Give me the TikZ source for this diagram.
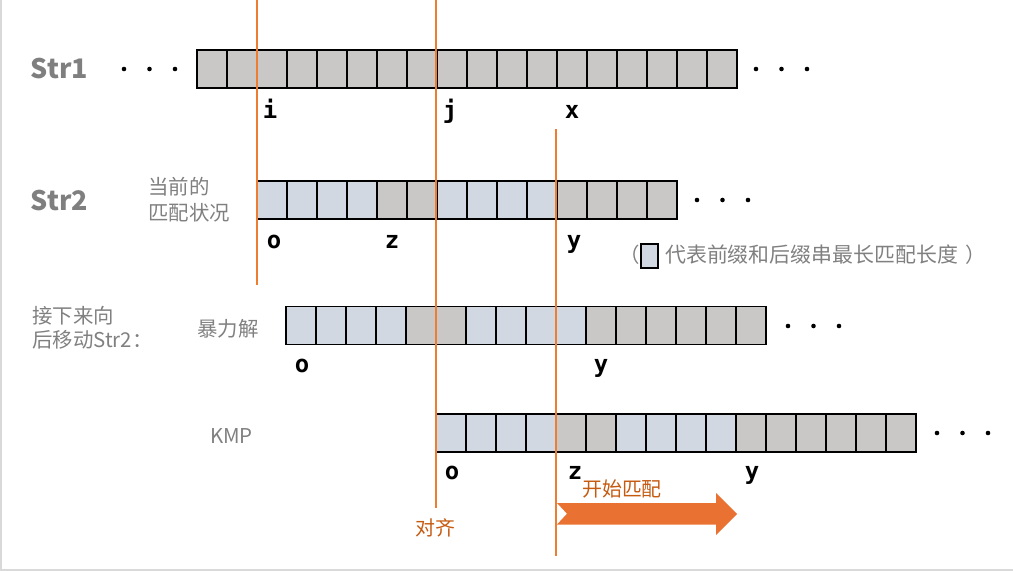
\documentclass[tikz,border=0pt]{standalone}
\usepackage{fontspec}
\newfontfamily\cjk{Noto Sans CJK SC}
\newfontfamily\mono{DejaVu Sans Mono}
\definecolor{cellG}{RGB}{201,200,198}
\definecolor{cellB}{RGB}{209,216,226}
\definecolor{lineor}{RGB}{237,125,49}
\definecolor{arrowor}{RGB}{233,113,50}
\definecolor{ortxt}{RGB}{197,90,17}
\definecolor{labgray}{RGB}{127,127,127}
\definecolor{notegray}{RGB}{128,128,128}
\definecolor{framegray}{RGB}{217,217,217}
\newcommand\cellrow[4]{% x0, y0, n-1, colours
  \foreach \c [count=\i from 0] in {#4} {\fill[fill=cell\c] ({#1+\i*30},#2) rectangle ++(30,38);}
  \foreach \k in {1,...,#3} {\draw[cellline] ({#1+\k*30},#2) -- ++(0,38);}
  \draw[cellline] (#1,#2) rectangle ++({(#3+1)*30},38);
}
\newcommand\threedots[3]{% x0, y, name
  \foreach \k in {0,1,2} {\fill ({#1+\k*25.5},#2) circle (2.3);}
}
\begin{document}
\begin{tikzpicture}[x=1bp,y=-1bp,
  cellline/.style={line width=1.7bp,draw=black},
  vline/.style={line width=1.7bp,draw=lineor},
  lbl/.style={font=\mono\bfseries\fontsize{24}{24}\selectfont,text=black,inner sep=0,anchor=base},
  strlbl/.style={font=\cjk\bfseries\fontsize{27}{27}\selectfont,text=labgray,inner sep=0},
  note/.style={font=\cjk\fontsize{20.5}{20.5}\selectfont,text=notegray,inner sep=0,anchor=base west},
  ortext/.style={font=\cjk\fontsize{20}{20}\selectfont,text=ortxt,inner sep=0,anchor=base west},
]
\useasboundingbox (0,0) rectangle (1013,571);
% frame
\draw[framegray,line width=1.2bp] (1,0) -- (1,570) -- (1013,570);

% rows of cells
\cellrow{196.7}{50}{17}{G,G,G,G,G,G,G,G,G,G,G,G,G,G,G,G,G,G}
\cellrow{257}{181}{13}{B,B,B,B,G,G,B,B,B,B,G,G,G,G}
\cellrow{286}{306.5}{15}{B,B,B,B,G,G,B,B,B,B,G,G,G,G,G,G}
\cellrow{436}{414}{15}{B,B,B,B,G,G,B,B,B,B,G,G,G,G,G,G}

% dots
\threedots{124}{69}{d1}
\threedots{756}{69}{d2}
\threedots{697}{200}{d3}
\threedots{788}{326}{d4}
\threedots{937}{433}{d5}

% row titles
\node[strlbl] (s1) at (59.5,68) {Str1};
\node[strlbl] (s2) at (59.5,200) {Str2};
\node[note] (cur1) at (148,195) {当前的};
\node[note] (cur2) at (148,221) {匹配状况};
\node[note] (mv1) at (32,323) {接下来向};
\node[note] (mv2) at (32,347) {后移动Str2：};
\node[note] (bf) at (197,336) {暴力解};
\node[note] (kmp) at (210,443) {KMP};

% legend
\node[note,anchor=base east] (lp) at (640,263) {（};
\draw[line width=1.7bp,fill=cellB] (641,244) rectangle (658,268);
\node[note,font=\cjk\fontsize{21}{21}\selectfont] (leg) at (665,263) {代表前缀和后缀串最长匹配长度};
\node[note] (rp) at (965,263) {）};

% index labels
\node[lbl] (li) at (270,119) {i};
\node[lbl] (lj) at (450,119) {j};
\node[lbl] (lx) at (572,119) {x};
\node[lbl] (o2) at (274,249) {o};
\node[lbl] (z2) at (392,249) {z};
\node[lbl] (y2) at (574,249) {y};
\node[lbl] (o3) at (302,372) {o};
\node[lbl] (y3) at (601,372) {y};
\node[lbl] (o4) at (452,479) {o};
\node[lbl] (z4) at (575,479) {z};
\node[lbl] (y4) at (752,479) {y};

% arrow
\fill[arrowor] (557,503) -- (716,503) -- (716,493) -- (737,514) -- (716,535) -- (716,524.5) -- (557,524.5) -- (567,513.7) -- cycle;

% orange vertical lines
\coordinate (a1) at (257,0);   \coordinate (b1) at (257,285);
\coordinate (a2) at (436,0);   \coordinate (b2) at (436,508);
\coordinate (a3) at (556,129); \coordinate (b3) at (556,556);
\draw[vline] (a1) -- (b1);
\draw[vline] (a2) -- (b2);
\draw[vline] (a3) -- (b3);

% orange texts
\node[ortext] (start) at (582,496) {开始匹配};
\node[ortext] (align) at (415,535) {对齐};
\end{tikzpicture}
\end{document}
